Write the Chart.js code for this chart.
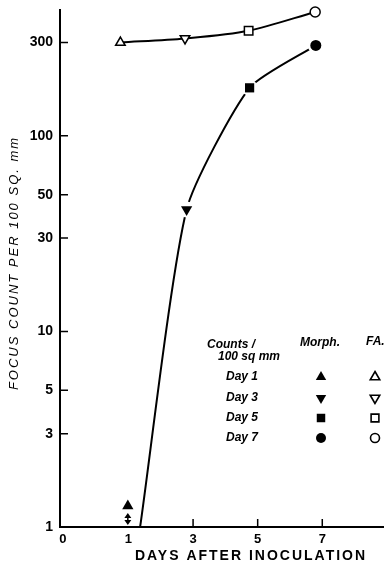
<!DOCTYPE html>
<html>
<head>
<meta charset="utf-8">
<script src="https://cdn.jsdelivr.net/npm/chart.js@4.4.0/dist/chart.umd.min.js"></script>
<style>
  html, body { margin: 0; padding: 0; background: #fff; }
</style>
</head>
<body>
<canvas id="chart" width="391" height="564"></canvas>
<script>
// values: x = days after inoculation, y = foci per 100 sq mm
const faDays      = [0.75, 2.75, 4.72, 6.78];
const faCounts    = [300, 315, 345, 430];
const morphDays   = [2.8, 4.75, 6.8];
const morphCounts = [42, 176, 290];
const morphOnset  = [1.36, 1];     // where the fitted curve leaves the axis
const day1Morph   = [0.98, 1.28];  // day 1 morph. count, shown as below 1

const yTicks      = [1, 3, 5, 10, 30, 50, 100, 300];
const xTickValues = [-1.03, 1, 3, 5, 7];
const xTickLabels = ['0', '1', '3', '5', '7'];

const legendDays  = ['Day 1', 'Day 3', 'Day 5', 'Day 7'];

const FONT = '"Liberation Sans", Arial, sans-serif';
const SHAPES = [
  { pointStyle: 'triangle', rotation: 0,   radius: 6 },
  { pointStyle: 'triangle', rotation: 180, radius: 6 },
  { pointStyle: 'rect',     rotation: 0,   radius: 6 },
  { pointStyle: 'circle',   rotation: 0,   radius: 5 },
];

/* ----------------------------------------------------------
   Extras: axis titles, inward ticks, day-1 arrow, key table
   ---------------------------------------------------------- */
const extras = {
  id: 'extras',
  afterDraw(chart) {
    const { ctx, chartArea: a, scales: { x, y } } = chart;
    ctx.save();
    ctx.strokeStyle = '#000';
    ctx.fillStyle = '#000';

    // inward tick marks
    ctx.lineWidth = 1.5;
    ctx.beginPath();
    yTicks.slice(1).forEach(v => {
      const py = y.getPixelForValue(v);
      ctx.moveTo(a.left, py); ctx.lineTo(a.left + 8, py);
    });
    xTickValues.filter(v => v >= 3).forEach(v => {
      const px = x.getPixelForValue(v);
      ctx.moveTo(px, a.bottom); ctx.lineTo(px, a.bottom - 8);
    });
    ctx.stroke();

    // double arrow under the day 1 triangle
    const ax = x.getPixelForValue(day1Morph[0]);
    const top = y.getPixelForValue(day1Morph[1]) + 7;
    const bot = a.bottom - 2;
    ctx.lineWidth = 1.5;
    ctx.beginPath();
    ctx.moveTo(ax, top + 3); ctx.lineTo(ax, bot - 3);
    ctx.stroke();
    ctx.beginPath();
    ctx.moveTo(ax, top); ctx.lineTo(ax - 3.5, top + 5); ctx.lineTo(ax + 3.5, top + 5); ctx.closePath();
    ctx.moveTo(ax, bot); ctx.lineTo(ax - 3.5, bot - 5); ctx.lineTo(ax + 3.5, bot - 5); ctx.closePath();
    ctx.fill();

    // axis titles
    ctx.save();
    ctx.translate(14, 263);
    ctx.rotate(-Math.PI / 2);
    ctx.font = `italic 13px ${FONT}`;
    ctx.letterSpacing = '2px';
    ctx.textAlign = 'center';
    ctx.textBaseline = 'middle';
    ctx.fillText('FOCUS COUNT PER 100 SQ. mm', 0, 0);
    ctx.restore();

    ctx.font = `bold 14px ${FONT}`;
    ctx.letterSpacing = '2px';
    ctx.textAlign = 'center';
    ctx.textBaseline = 'middle';
    ctx.fillText('DAYS AFTER INOCULATION', 251, 556);

    // key table
    ctx.letterSpacing = '0px';
    ctx.textAlign = 'left';
    ctx.font = `italic bold 12px ${FONT}`;
    ctx.fillText('Counts /', 207, 345);
    ctx.fillText('100 sq mm', 218, 357);
    ctx.fillText('Morph.', 300, 343);
    ctx.fillText('FA.', 366, 342);
    const rowY = [377, 398, 418, 438];
    legendDays.forEach((d, i) => {
      ctx.fillStyle = '#000';
      ctx.fillText(d, 226, rowY[i]);
      const s = SHAPES[i];
      Chart.helpers.drawPoint(ctx, { ...s, borderWidth: 0 }, 321, rowY[i]);
      ctx.fillStyle = '#fff';
      ctx.lineWidth = 1.6;
      Chart.helpers.drawPoint(ctx, { ...s, radius: s.radius - 0.5, borderWidth: 1.6 }, 375, rowY[i]);
    });
    ctx.restore();
  }
};

const pts = (xs, ys) => xs.map((v, i) => ({ x: v, y: ys[i] }));

new Chart(document.getElementById('chart'), {
  type: 'scatter',
  data: {
    datasets: [
      { // morph. markers (top)
        data: pts(morphDays, morphCounts), showLine: false, clip: false,
        pointStyle: ['triangle', 'rect', 'circle'], rotation: [180, 0, 0],
        pointRadius: [6.5, 6.5, 5.5], backgroundColor: '#000', borderWidth: 0,
      },
      { // day 1 morph.
        data: [{ x: day1Morph[0], y: day1Morph[1] }], showLine: false, clip: false,
        pointStyle: 'triangle', pointRadius: 6.5, backgroundColor: '#000', borderWidth: 0,
      },
      { // F.A. markers
        data: pts(faDays, faCounts), showLine: false, clip: false,
        pointStyle: ['triangle', 'triangle', 'rect', 'circle'], rotation: [0, 180, 0, 0],
        pointRadius: [5.5, 5.5, 6, 5], backgroundColor: '#fff', borderColor: '#000', borderWidth: 1.5,
      },
      { // white halo so the curve stops short of the filled markers
        data: pts(morphDays, morphCounts), showLine: false, clip: false,
        pointStyle: 'circle', pointRadius: 8, backgroundColor: '#fff', borderWidth: 0,
      },
      { // morph. fitted curve
        data: [{ x: morphOnset[0], y: morphOnset[1] }, ...pts(morphDays, morphCounts)],
        showLine: true, pointRadius: 0, borderColor: '#000', borderWidth: 2,
        tension: 0.2,
      },
      { // F.A. fitted curve
        data: pts(faDays, faCounts),
        showLine: true, pointRadius: 0, borderColor: '#000', borderWidth: 2,
        tension: 0.3,
      },
    ],
  },
  options: {
    responsive: false,
    animation: false,
    events: [],
    layout: { padding: { top: 10, right: 1, left: 0, bottom: 0 } },
    plugins: { legend: { display: false }, tooltip: { enabled: false } },
    scales: {
      x: {
        type: 'linear', min: -1.12, max: 8.88,
        grid: { display: false, drawTicks: false },
        border: { color: '#000', width: 2 },
        afterBuildTicks: s => { s.ticks = xTickValues.map(v => ({ value: v })); },
        afterFit: s => { s.height = 37; s.paddingLeft = 0; s.paddingRight = 0; },
        ticks: {
          autoSkip: false, maxRotation: 0, padding: 5, color: '#000',
          font: { family: FONT, size: 13, weight: 'bold' },
          callback: (v, i) => xTickLabels[i],
        },
      },
      y: {
        type: 'logarithmic', min: 1, max: 440,
        grid: { display: false, drawTicks: false },
        border: { color: '#000', width: 2 },
        afterBuildTicks: s => { s.ticks = yTicks.map(v => ({ value: v })); },
        afterFit: s => { s.width = 60; s.paddingTop = 0; s.paddingBottom = 0; },
        ticks: {
          autoSkip: false, padding: 7, color: '#000',
          font: { family: FONT, size: 14, weight: 'bold' },
          callback: v => String(v),
        },
      },
    },
  },
  plugins: [extras],
});
</script>
</body>
</html>
